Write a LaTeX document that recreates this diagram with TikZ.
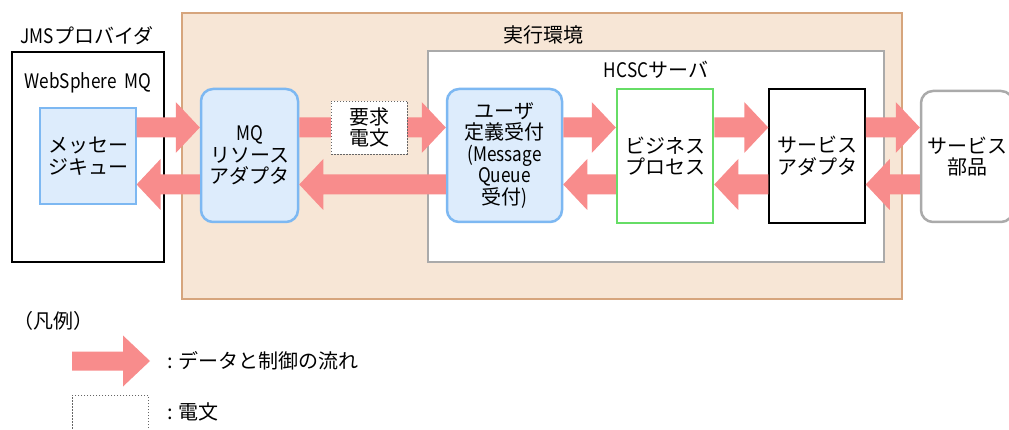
\documentclass[tikz,border=0pt]{standalone}
\usepackage{fontspec}
\setmainfont{Noto Sans CJK JP}
\newfontfamily\latn[FakeStretch=0.86]{Noto Sans CJK JP}
\usetikzlibrary{calc}
\definecolor{peach}{RGB}{247,230,214}
\definecolor{peachline}{RGB}{214,165,125}
\definecolor{lblue}{RGB}{221,236,252}
\definecolor{bblue}{RGB}{125,184,242}
\definecolor{gline}{RGB}{170,170,170}
\definecolor{gbord}{RGB}{102,221,102}
\definecolor{flowc}{RGB}{248,140,140}
\def\flowS{10}\def\flowH{25.5}\def\flowL{24}
% fat arrow from point #1 to tip point #2 at pixel height #3
\newcommand\fatflow[3]{%
  \fill[flowc] let \p1=(#1), \p2=(#2), \p3=(0,#3), \n1={sign(\x2-\x1)*\flowL} in
  (\x1,\y3+\flowS pt) -- (\x2-\n1,\y3+\flowS pt) -- (\x2-\n1,\y3+\flowH pt)
  -- (\x2,\y3) -- (\x2-\n1,\y3-\flowH pt) -- (\x2-\n1,\y3-\flowS pt)
  -- (\x1,\y3-\flowS pt) -- cycle;}
\begin{document}
\begin{tikzpicture}[x=1pt,y=-1pt,
  font=\fontsize{20}{21.5}\selectfont,
  box/.style={rectangle,inner sep=0pt,align=center},
  bluebox/.style={box,fill=lblue,draw=bblue},
  lbl/.style={inner sep=0pt,align=center}]
\useasboundingbox (0,0) rectangle (1009,430);
\fill[white] (0,0) rectangle (1009,430);
% containers
\node[box,fill=peach,draw=peachline,line width=1.5pt,minimum width=720pt,minimum height=286pt] (env) at (542,156) {};
\node[lbl] (envl) at (543,35) {実行環境};
\node[lbl] (jmsl) at (87,36) {{\latn JMS}プロバイダ};
\node[box,fill=white,draw=black,line width=1.5pt,minimum width=152pt,minimum height=210pt] (ws) at (88,157) {};
\node[lbl] (wsl) at (88,83) {\latn WebSphere\ \ MQ};
\node[box,fill=white,draw=gline,line width=2.5pt,minimum width=456pt,minimum height=211pt] (hcsc) at (656,156.5) {};
\node[lbl] (hcscl) at (656,70) {{\latn HCSC}サーバ};
% components
\node[bluebox,line width=1.2pt,minimum width=96pt,minimum height=96pt] (mq) at (88,156) {メッセー\\ジキュー};
\node[bluebox,rounded corners=12pt,line width=2.5pt,minimum width=97pt,minimum height=133pt] (ra) at (249.5,155.5) {{\latn MQ}\\リソース\\アダプタ};
\node[bluebox,rounded corners=12pt,line width=2.5pt,minimum width=115pt,minimum height=133pt] (ud) at (504.5,155.5) {ユーザ\\定義受付\\{\latn(Message}\\{\latn Queue}\\受付{\latn)}};
\node[box,fill=white,draw=gbord,line width=2.5pt,minimum width=96pt,minimum height=134pt] (bp) at (665,156) {ビジネス\\プロセス};
\node[box,fill=white,draw=black,line width=1.5pt,minimum width=96pt,minimum height=134pt] (sa) at (817,156) {サービス\\アダプタ};
\node[box,fill=white,draw=gline,rounded corners=12pt,line width=2.5pt,minimum width=92pt,minimum height=131pt] (parts) at (967,156.5) {サービス\\部品};
% flows: request (upper) and response (lower)
\fatflow{mq.east}{ra.west}{127.5}
\fatflow{ra.east}{ud.west}{127.5}
\fatflow{ud.east}{bp.west}{127.5}
\fatflow{bp.east}{sa.west}{127.5}
\fatflow{sa.east}{parts.west}{127.5}
\fatflow{parts.west}{sa.east}{184.5}
\fatflow{sa.west}{bp.east}{184.5}
\fatflow{bp.west}{ud.east}{184.5}
\fatflow{ud.west}{ra.east}{184.5}
\fatflow{ra.west}{mq.east}{184.5}
% message box
\node[box,fill=white,draw=black!60,dash pattern=on 1.5pt off 1.5pt,line width=0.6pt,minimum width=76pt,minimum height=53pt] (req) at (369,127.5) {要求\\電文};
% legend
\node[lbl,anchor=west] (legt) at (13,321) {（凡例）};
\coordinate (la) at (72,361);
\coordinate (lb) at (150,361);
{\def\flowS{9.5}\def\flowL{27}\fatflow{la}{lb}{361}}
\node[lbl,anchor=west] (lflow) at (167,361) {: データと制御の流れ};
\node[box,fill=white,draw=black!60,dash pattern=on 1.5pt off 1.5pt,line width=0.6pt,minimum width=76pt,minimum height=53pt] (lmsg) at (110,421.5) {};
\node[lbl,anchor=west] (lmsgt) at (167,412) {: 電文};
\end{tikzpicture}
\end{document}
